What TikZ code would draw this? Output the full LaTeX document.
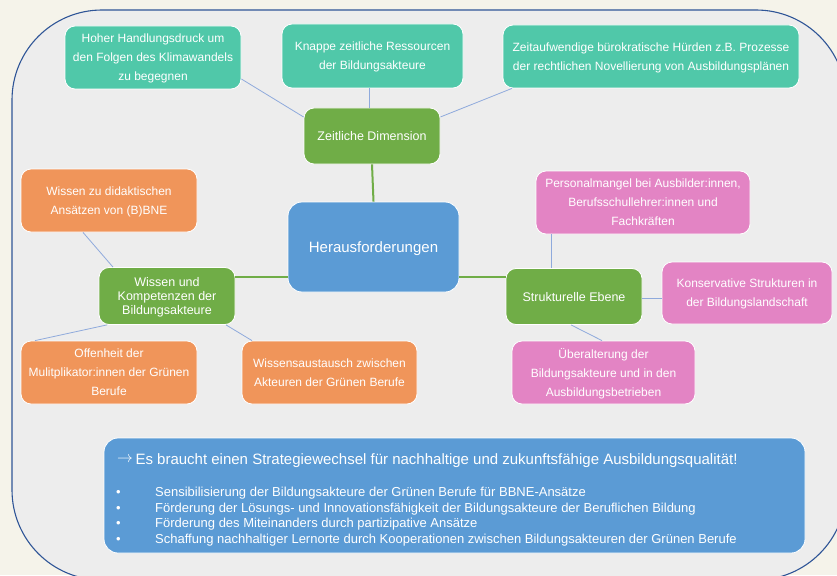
\documentclass[tikz,border=0pt]{standalone}
\usepackage{fontspec}
\usepackage{graphicx}
\setmainfont{Liberation Sans}
\definecolor{cream}{HTML}{F5F3EA}
\definecolor{panel}{HTML}{EDEDED}
\definecolor{framec}{HTML}{2F5597}
\definecolor{tealc}{HTML}{50C8A9}
\definecolor{greenc}{HTML}{70AD47}
\definecolor{bluec}{HTML}{5B9BD5}
\definecolor{orangec}{HTML}{F0955A}
\definecolor{pinkc}{HTML}{E384C4}
\definecolor{thinline}{HTML}{8FAADC}
\tikzset{
  box/.style={draw=white, line width=0.8pt, rounded corners=10pt, text=white,
    align=center, inner sep=2pt, text depth=0pt, font=\fontsize{12}{19}\selectfont},
  leafteal/.style={box, fill=tealc},
  leaforange/.style={box, fill=orangec},
  leafpink/.style={box, fill=pinkc},
  branch/.style={box, fill=greenc, font=\fontsize{12.5}{14}\selectfont},
  core/.style={box, fill=bluec, rounded corners=14pt, font=\fontsize{15}{18}\selectfont},
  twig/.style={draw=thinline, line width=0.8pt},
  limb/.style={draw=greenc, line width=2pt},
}
\begin{document}
\begin{tikzpicture}[x=1pt,y=-1pt]
\useasboundingbox (0,0) rectangle (837,575);
\fill[cream] (0,0) rectangle (837,575);
\clip (0,0) rectangle (837,575);
% panel with big rounded corners
\draw[framec, fill=panel, line width=1.1pt, rounded corners=90pt] (12,10) rectangle (846,580);

% centre
\node[core, minimum width=171pt, minimum height=90pt] (core) at (373.5,247) {Herausforderungen};

% time branch
\node[branch, minimum width=136pt, minimum height=56pt] (zeit) at (372,136) {Zeitliche Dimension};
\node[leafteal, minimum width=176pt, minimum height=63pt] (hoher) at (153,57.5)
  {Hoher Handlungsdruck um\\den Folgen des Klimawandels\\zu begegnen};
\node[leafteal, minimum width=181pt, minimum height=64pt] (knapp) at (372.5,56)
  {Knappe zeitliche Ressourcen\\der Bildungsakteure};
\node[leafteal, minimum width=296pt, minimum height=63pt] (buero) at (651,56.5)
  {Zeitaufwendige bürokratische Hürden z.B. Prozesse\\der rechtlichen Novellierung von Ausbildungsplänen};

% knowledge branch
\node[branch, minimum width=136pt, minimum height=57pt] (wissen) at (167,296)
  {Wissen und\\Kompetenzen der\\Bildungsakteure};
\node[leaforange, minimum width=176pt, minimum height=63pt] (didak) at (109,200.5)
  {Wissen zu didaktischen\\Ansätzen von (B)BNE};
\node[leaforange, minimum width=176pt, minimum height=63pt] (offen) at (109,372.5)
  {Offenheit der\\Mulitplikator:innen der Grünen\\Berufe};
\node[leaforange, minimum width=175pt, minimum height=63pt] (austausch) at (329.5,372.5)
  {Wissensaustausch zwischen\\Akteuren der Grünen Berufe};

% structure branch
\node[branch, minimum width=136pt, minimum height=56pt] (struktur) at (574,296.5) {Strukturelle Ebene};
\node[leafpink, minimum width=214pt, minimum height=63pt] (personal) at (643,202.5)
  {Personalmangel bei Ausbilder:innen,\\Berufsschullehrer:innen und\\Fachkräften};
\node[leafpink, minimum width=170pt, minimum height=62pt] (konserv) at (747,293)
  {Konservative Strukturen in\\der Bildungslandschaft};
\node[leafpink, minimum width=183pt, minimum height=63pt] (alter) at (603.5,372.5)
  {Überalterung der\\Bildungsakteure und in den\\Ausbildungsbetrieben};

% connectors
\draw[limb] (zeit.south) -- (core.north);
\draw[limb] (core.west |- 0,277) -- (wissen.east |- 0,277);
\draw[limb] (core.east |- 0,277) -- (struktur.west |- 0,277);

\draw[twig] (zeit.west |- 0,117) -- (hoher.east |- 0,79);
\draw[twig] (knapp.south -| 369,0) -- (zeit.north -| 369,0);
\draw[twig] (zeit.east |- 0,117) -- (buero.south -| 512,0);

\draw[twig] (wissen.north -| 113,0) -- (didak.south -| 83,0);
\draw[twig] (wissen.south -| 107,0) -- (offen.north -| 35,0);
\draw[twig] (wissen.south -| 226,0) -- (austausch.north -| 252,0);

\draw[twig] (struktur.north -| 551,0) -- (personal.south -| 551,0);
\draw[twig] (struktur.east |- 0,298) -- (konserv.west |- 0,298);
\draw[twig] (struktur.south -| 571,0) -- (alter.north -| 602,0);

% conclusion box
\node[box, fill=bluec, rounded corners=14pt, minimum width=701pt, minimum height=115pt] (fazit) at (454.5,495.5) {};
\node[text=white, anchor=base west, inner sep=0pt, font=\fontsize{15}{18}\selectfont] (fazittitel) at (117,464)
  {\raisebox{1.3pt}{\scalebox{1.1}{$\rightarrow$}}\,Es braucht einen Strategiewechsel für nachhaltige und zukunftsfähige Ausbildungsqualität!};
\node[text=white, anchor=north west, inner sep=0pt, font=\fontsize{13}{15.5}\selectfont] (fazitliste) at (116,485.5)
  {\begin{tabular}{@{}p{39pt}@{}l@{}}
   • & Sensibilisierung der Bildungsakteure der Grünen Berufe für BBNE-Ansätze\\
   • & Förderung der Lösungs- und Innovationsfähigkeit der Bildungsakteure der Beruflichen Bildung\\
   • & Förderung des Miteinanders durch partizipative Ansätze\\
   • & Schaffung nachhaltiger Lernorte durch Kooperationen zwischen Bildungsakteuren der Grünen Berufe
   \end{tabular}};
\end{tikzpicture}
\end{document}
